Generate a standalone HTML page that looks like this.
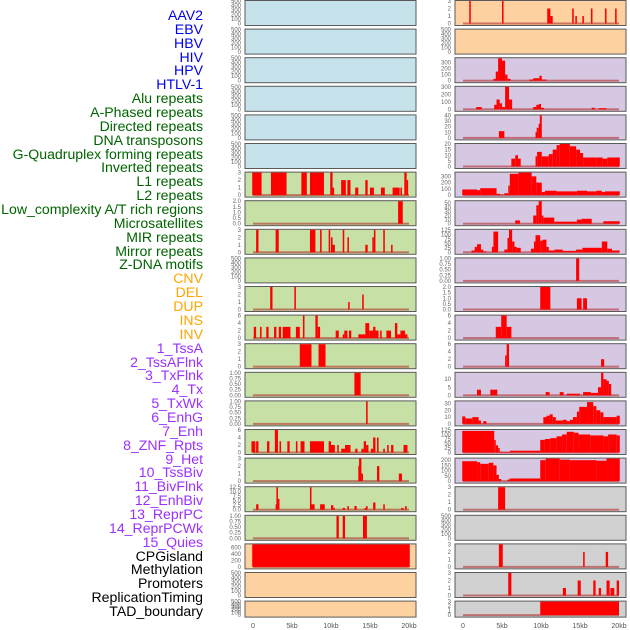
<!DOCTYPE html>
<html><head><meta charset="utf-8">
<style>
html,body{margin:0;padding:0;background:#fff;}
#wrap{position:relative;width:630px;height:630px;overflow:hidden;font-family:"Liberation Sans",sans-serif;}
.lbl{position:absolute;right:427px;font-size:14.1px;line-height:14px;white-space:nowrap;}
svg text{font-family:"Liberation Sans",sans-serif;}
</style></head>
<body>
<div id="wrap">
<div id="labels"></div>
<svg id="chart" width="630" height="630"></svg>
</div>
<script>
// ---- label data ----
const labelNames = ["AAV2","EBV","HBV","HIV","HPV","HTLV-1","Alu repeats","A-Phased repeats","Directed repeats","DNA transposons","G-Quadruplex forming repeats","Inverted repeats","L1 repeats","L2 repeats","Low_complexity A/T rich regions","Microsatellites","MIR repeats","Mirror repeats","Z-DNA motifs","CNV","DEL","DUP","INS","INV","1_TssA","2_TssAFlnk","3_TxFlnk","4_Tx","5_TxWk","6_EnhG","7_Enh","8_ZNF_Rpts","9_Het","10_TssBiv","11_BivFlnk","12_EnhBiv","13_ReprPC","14_ReprPCWk","15_Quies","CPGisland","Methylation","Promoters","ReplicationTiming","TAD_boundary"];
const labelGroups = [0,0,0,0,0,0,1,1,1,1,1,1,1,1,1,1,1,1,1,2,2,2,2,2,3,3,3,3,3,3,3,3,3,3,3,3,3,3,3,4,4,4,4,4];
const groupColors = ["#0000ee","#006400","#ffa500","#9b30ff","#000000"];
const xTickValues = [0,5,10,15,20];
const xTickLabels = ["0","5kb","10kb","15kb","20kb"];

// ---- track data: [startKb, endKb, value] ----
const empty = [];
const alu = [[-0.1,1.1,3],[2.3,4.3,3],[6.2,6.9,3],[7.3,9.1,3],[9.9,10.2,3],[10.2,10.4,1],[11.3,11.9,2],[12.1,12.5,2],[13.1,13.5,1],[14.4,14.7,2],[15,15.5,1],[16.4,16.9,1],[17.9,18.8,1],[18.9,19.1,1],[19.4,19.7,3],[19.7,19.8,2]];
const aPhased = [[18.6,19.2,2]];
const directed = [[0.4,0.7,3],[2.9,3.3,3],[7.3,8.0,3],[8.6,8.8,3],[9.7,9.9,3],[10.0,10.2,2],[10.2,10.5,1],[11.5,11.7,3],[12.1,12.3,2],[14.4,14.7,1],[15.3,15.5,2],[15.5,15.7,3],[16.7,16.9,3],[17.7,17.9,1]];
const gQuad = [[2.2,2.5,3],[5.3,5.5,3],[12.2,12.4,1],[14.0,14.2,2]];
const inverted = [[0.1,0.4,3],[0.9,1.1,3],[1.7,2.0,3],[2.7,3.0,3],[3.3,3.6,3],[3.8,4.8,3],[5.5,6.0,3],[6.4,6.6,6],[8.0,8.3,6],[8.3,8.6,3],[10.6,11.0,2],[11.5,11.7,1],[11.7,12.1,2],[12.3,12.6,2],[13.5,14.4,1],[14.4,14.9,4],[14.9,15.4,2],[15.4,15.7,3],[15.7,16.1,2],[16.3,16.5,2],[17.1,17.7,2],[18.2,18.5,4],[18.5,18.9,1],[18.9,19.1,2],[19.1,19.5,2],[19.5,19.8,1]];
const l1 = [[6.0,7.5,3],[8.4,9.3,3]];
const l2 = [[13.0,13.8,1]];
const lowComplex = [[14.5,14.7,1]];
const microsat = [[-0.2,0.3,3],[0.4,0.7,3],[1.8,2.1,3],[2.8,3.2,6],[3.4,3.6,3],[4.4,4.7,3],[5.5,5.7,3],[6.1,6.6,3],[7.3,9.1,3],[9.7,10.0,3],[10.0,10.5,2],[10.8,11.0,2],[11.3,11.8,1],[11.8,12.5,2],[13.1,13.4,1],[13.9,14.2,1],[14.2,14.5,3],[14.5,14.8,2],[15.1,15.4,1],[15.4,15.7,4],[15.9,16.1,4],[16.7,16.9,1],[17.2,17.4,2],[17.7,18.0,2],[19.3,19.8,2]];
const mir = [[13.5,13.6,2],[13.6,13.9,3],[13.9,14.1,1],[15.9,16.2,2],[18.7,19.1,1]];
const mirror = [[0.4,0.7,3],[2.9,3.0,3],[3.0,3.2,12.5],[3.2,3.3,6],[7.3,7.5,12.5],[7.5,7.9,3],[8.6,9.2,3],[10.0,10.3,2.5],[10.3,10.5,1],[11.5,11.8,1],[12.1,12.3,2],[13.0,13.3,2],[14.3,14.5,1],[14.5,14.7,2],[15.4,15.7,4],[16.7,16.9,3],[19.0,19.3,1],[19.5,19.7,2]];
const zdna = [[10.7,11.0,1],[11.5,11.8,1],[14.1,14.6,1]];
const cnv = [[-0.1,20.1,700]];
const ins = [[0.8,1.0,3],[5.0,5.2,3],[10.8,11.2,2],[11.2,11.5,1],[14.0,14.2,2],[14.4,14.6,1],[15.3,15.5,1],[16.4,16.6,2],[18.2,18.4,2],[19.5,19.7,2]];
const tssA = [[3.9,4.2,30],[4.2,4.5,150],[4.5,5.0,370],[5.0,5.4,330],[5.4,5.7,100],[5.7,6.1,30],[8.5,9.0,20],[9.0,9.8,40],[9.8,10.1,80],[10.1,10.7,20]];
const tssAFlnk = [[1.7,2.4,30],[4.0,4.3,60],[4.3,4.7,130],[4.7,5.0,80],[5.0,5.4,30],[5.4,5.9,300],[5.9,6.3,130],[9.0,9.4,30],[9.4,9.7,60],[9.7,10.0,70],[10.0,10.4,20],[16.5,16.9,20],[17.4,18.4,15]];
const txFlnk = [[4.6,5.3,12],[9.3,9.45,10],[9.45,9.7,18],[9.7,9.85,25],[9.85,10.1,40]];
const tx = [[6.2,6.7,7],[6.7,7.05,10],[7.05,7.4,7],[9.3,9.5,9],[9.5,10.1,13],[10.1,11.0,9],[11.0,11.5,11],[11.5,12.0,15],[12.0,12.4,19],[12.4,13.7,20],[13.7,14.5,18],[14.5,15.0,15],[15.0,15.4,12],[15.4,17.1,8],[17.1,17.9,8],[17.9,18.5,7],[18.5,20.1,8]];
const txWk = [[-0.1,1.8,90],[1.8,2.2,80],[2.2,4.3,110],[4.3,4.8,20],[4.8,5.3,5],[5.3,5.8,30],[5.8,6.0,150],[6.0,7.1,340],[7.1,8.8,360],[8.8,9.4,300],[9.4,10.1,200],[10.1,10.5,50],[10.5,12.0,70],[12.0,14.6,60],[14.6,15.9,70],[15.9,17.1,60],[17.1,17.8,70],[17.8,18.2,50],[18.2,20.1,60]];
const enhG = [[6.7,7.3,8],[9.0,9.4,20],[9.4,9.7,45],[9.7,10.1,55],[10.1,10.3,20],[10.3,11.7,15],[11.7,14.6,5],[14.6,15.2,10],[15.2,16.5,12],[18.0,20.1,6]];
const enh = [[1.1,1.5,10],[1.5,1.8,30],[1.8,2.3,45],[2.3,2.6,15],[2.6,3.0,5],[3.7,3.9,30],[3.9,4.5,115],[5.3,5.7,15],[5.7,5.9,80],[5.9,6.3,125],[6.3,6.6,60],[6.6,6.9,30],[6.9,7.4,25],[8.7,9.1,20],[9.1,9.3,60],[9.3,9.9,95],[9.9,10.2,65],[10.2,10.7,70],[10.7,11.0,30],[11.0,11.7,10],[11.7,12.8,15],[12.8,14.5,8],[14.5,15.3,15],[15.3,17.8,25],[17.8,18.5,60],[18.5,19.1,20],[19.1,20.1,10]];
const znf = [[14.5,14.9,1]];
const het = [[9.9,11.2,2],[14.6,15.2,1],[15.4,15.9,1]];
const tssBiv = [[4.2,4.9,3],[4.9,5.6,6],[5.6,6.2,3]];
const bivFlnk = [[5.4,5.6,3],[5.6,5.9,6],[17.7,18.1,2]];
const enhBiv = [[1.8,2.3,3.5],[3.5,4.4,3.5],[10.6,11.1,2],[12.4,12.9,2],[13.3,15.0,1],[15.4,16.4,2],[16.4,17.3,1.5],[17.3,17.7,5],[17.7,18.0,14],[18.0,18.4,10],[18.4,18.7,9],[18.7,19.0,7]];
const reprPC = [[-0.1,0.3,11],[0.3,1.2,8],[1.2,2.0,10],[2.0,2.3,5],[2.6,3.0,4],[10.3,10.7,10],[10.7,11.1,12],[11.1,11.5,14],[11.5,11.9,10],[11.9,12.8,5],[12.8,13.3,6],[13.3,13.7,4],[13.7,14.1,6],[14.1,14.6,10],[14.6,14.9,18],[14.9,15.9,25],[15.9,16.7,32],[16.7,17.1,26],[17.1,17.6,20],[17.6,18.0,17],[18.0,19.7,10],[19.7,20.1,12]];
const reprPCWk = [[-0.1,4.0,120],[4.0,4.2,70],[4.2,4.5,40],[4.5,4.7,25],[4.7,5.0,5],[5.0,6.0,3],[6.0,9.9,10],[9.9,10.5,70],[10.5,11.2,75],[11.2,12.0,80],[12.0,12.7,90],[12.7,13.3,100],[13.3,14.2,115],[14.2,14.8,110],[14.8,16.3,100],[16.3,18.0,95],[18.0,18.6,90],[18.6,19.7,100],[19.7,20.1,95]];
const quies = [[-0.1,1.8,190],[1.8,2.2,180],[2.2,3.3,165],[3.3,3.9,175],[3.9,4.3,150],[4.3,4.6,60],[4.6,4.9,20],[5.7,6.0,15],[6.0,9.9,25],[9.9,10.6,200],[10.6,12.4,215],[12.4,13.7,205],[13.7,17.1,200],[17.1,18.4,195],[18.4,20.1,215]];
const cpg = [[4.5,5.4,3]];
const promoters = [[4.6,5.1,3],[15.4,15.6,2],[18.3,18.6,2]];
const repTiming = [[5.8,6.2,3],[12.8,13.2,1],[14.7,15.1,2],[16.7,17.0,2],[17.4,17.7,1],[18.4,18.8,2],[18.9,19.4,1],[19.7,20.0,2]];
const tad = [[9.9,20.0,3]];

const t500 = ["0","100","200","300","400","500"];
const t3 = ["0","1","2","3"];
const t1 = ["0.00","0.25","0.50","0.75","1.00"];
const t6 = ["0","2","4","6"];
const leftTracks = [empty,empty,empty,empty,empty,empty,alu,aPhased,directed,empty,gQuad,inverted,l1,l2,lowComplex,microsat,mir,mirror,zdna,cnv,empty,empty];
const leftMax = [500,500,500,500,500,500,3,2,3,500,3,6,3,1,1,6,3,12.5,1,700,500,500];
const leftTicks = [t500,t500,t500,t500,t500,t500,t3,["0.0","0.5","1.0","1.5","2.0"],t3,t500,t3,t6,t3,t1,t1,t6,t3,["0.0","2.5","5.0","7.5","10.0","12.5"],t1,["0","200","400","600"],t500,t500];
const leftBg = [0,0,0,0,0,0,1,1,1,1,1,1,1,1,1,1,1,1,1,2,2,2];
const rightTracks = [ins,empty,tssA,tssAFlnk,txFlnk,tx,txWk,enhG,enh,znf,het,tssBiv,bivFlnk,enhBiv,reprPC,reprPCWk,quies,cpg,empty,promoters,repTiming,tad];
const rightMax = [3,500,370,300,40,20,360,55,125,1,2,6,6,14,33,125,215,3,500,3,3,3];
const rightTicks = [t3,t500,["0","100","200","300"],["0","100","200","300"],["0","10","20","30","40"],["0","5","10","15","20"],["0","100","200","300"],["0","10","20","30","40","50"],["0","25","50","75","100","125"],t1,["0.0","0.5","1.0","1.5","2.0"],t6,t6,["0","5","10"],["0","10","20","30"],["0","25","50","75","100","125"],["0","50","100","150","200"],t3,t500,t3,t3,t3];
const rightBg = [2,2,3,3,3,3,3,3,3,3,3,3,3,3,3,3,3,4,4,4,4,4];
const bgColors = ["#c6e3eb","#c7e0a5","#fdd1a0","#d6c7e2","#d1d1d1"];

// ---- labels ----
const labDiv = document.getElementById('labels');
labelNames.forEach((n,i)=>{
  const d=document.createElement('div');
  d.className='lbl';
  d.style.top=(8+i*13.86)+'px';
  d.style.color=groupColors[labelGroups[i]];
  d.textContent=n;
  
  
  labDiv.appendChild(d);
});

// ---- panels ----
const svg=document.getElementById('chart');
const NS='http://www.w3.org/2000/svg';
function mk(tag,attrs){const e=document.createElementNS(NS,tag);for(const k in attrs)e.setAttribute(k,attrs[k]);return e;}
function rowTop(r){return r*28.6;}
function rowH(r){return r===21?16:25;}
function drawColumn(tracks,maxes,ticks,bgs,panelX,zeroX,colName){
  const kb=7.8;
  const xScale=v=>zeroX+v*kb;
  tracks.forEach((data,r)=>{
    const T=rowTop(r),H=rowH(r);
    const g=mk('g',{});
    
    
    svg.appendChild(g);
    const bg=mk('rect',{x:panelX,y:T+0.5,width:171,height:H,fill:bgColors[bgs[r]],stroke:'#5a5a5a','stroke-width':1});
    
    
    g.appendChild(bg);
    const y0=T+H-1.5, y1=T+1;
    const yScale=v=>y0-(v/maxes[r])*(y0-y1);
    const tk=ticks[r];
    tk.forEach(lab=>{
      const v=parseFloat(lab);
      const t=mk('text',{x:panelX-4,y:yScale(v)+2,'font-size':6,fill:'#666','text-anchor':'end'});
      t.textContent=lab;
      
      
      g.appendChild(t);
    });
    if(data.length){
      const base=mk('rect',{x:xScale(0),y:y0-1,width:xScale(20)-xScale(0),height:2,fill:'#b03030',opacity:0.6});
      
      
      g.appendChild(base);
    }
    data.forEach(d=>{
      const xa=xScale(d[0]),xb=xScale(d[1]);
      const yt=yScale(d[2]);
      const b=mk('rect',{x:xa,y:yt,width:Math.max(1.5,xb-xa),height:Math.max(0,y0-yt),fill:'#ff0000'});
      
      
      g.appendChild(b);
    });
  });
  xTickValues.forEach((v,i)=>{
    const t=mk('text',{x:xScale(v),y:628,'font-size':7,fill:'#555','text-anchor':'middle'});
    t.textContent=xTickLabels[i];
    
    
    svg.appendChild(t);
  });
}
drawColumn(leftTracks,leftMax,leftTicks,leftBg,245,253,'left');
drawColumn(rightTracks,rightMax,rightTicks,rightBg,455,463,'right');
</script>
</body></html>
